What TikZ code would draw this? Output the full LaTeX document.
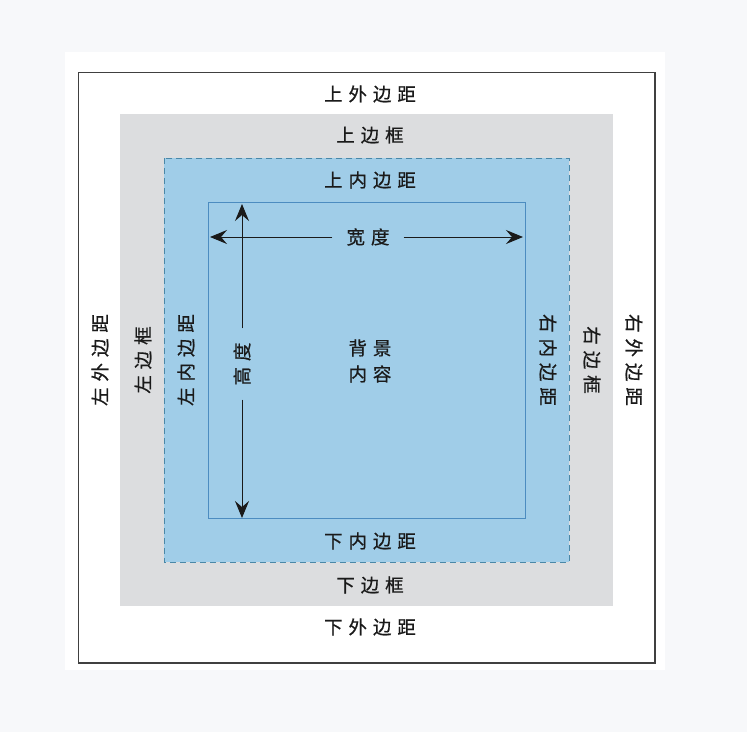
\documentclass[tikz,border=0pt]{standalone}
\usepackage{fontspec}
\newfontfamily\cjk[LetterSpace=32,FakeBold=0.6]{Noto Sans CJK SC}
\usetikzlibrary{arrows.meta}
\definecolor{pagebg}{HTML}{F7F8FA}
\definecolor{bordergray}{HTML}{DCDDDF}
\definecolor{padblue}{HTML}{A0CDE8}
\definecolor{dashblue}{HTML}{4A88A8}
\definecolor{contentline}{HTML}{4C8CC0}
\definecolor{txt}{HTML}{1A1A1A}
\begin{document}
\begin{tikzpicture}[x=1pt,y=-1pt,
  lbl/.style={font=\cjk\fontsize{18.5}{21}\selectfont, text=txt, inner sep=0pt},
  dimarrow/.style={draw=txt, line width=1pt, -{Stealth[length=17pt,width=14pt,inset=6pt]}},
  dimlbl/.style={lbl, inner sep=12pt}]
\useasboundingbox (0,0) rectangle (747,732);
\fill[pagebg] (0,0) rectangle (747,732);
\fill[white] (65,52) rectangle (665,670);
\draw[draw=black!75, line width=1.2pt] (78.5,72.5) rectangle (655,663);
\fill[bordergray] (120,114) rectangle (613,606);
\fill[padblue] (164,158) rectangle (569,562);
\draw[dashblue, line width=0.9pt, dash pattern=on 6pt off 4pt] (164,158) rectangle (569,562);
\draw[contentline, line width=0.9pt] (208,202) rectangle (525,518);
% labels
\node[lbl] (tm) at (370,94) {上外边距};
\node[lbl] (tb) at (370,135) {上边框};
\node[lbl] (tp) at (370,180) {上内边距};
\node[lbl] (bp) at (370,541) {下内边距};
\node[lbl] (bb) at (370,585) {下边框};
\node[lbl] (bm) at (370,627) {下外边距};
\node[lbl, rotate=90] (lm) at (100,360) {左外边距};
\node[lbl, rotate=90] (lb) at (143,360) {左边框};
\node[lbl, rotate=90] (lp) at (186,360) {左内边距};
\node[lbl, rotate=-90] (rp) at (548,360) {右内边距};
\node[lbl, rotate=-90] (rb) at (592,360) {右边框};
\node[lbl, rotate=-90] (rm) at (634,360) {右外边距};
\node[lbl, align=center] (bg) at (370,361) {背景\\[5pt]内容};
% dimension arrows
\coordinate (wl) at (210,237);
\coordinate (wr) at (523,237);
\coordinate (ht) at (242,204);
\coordinate (hb) at (242,518);
\node[dimlbl, inner xsep=14pt] (w) at (368,237) {宽度};
\node[dimlbl, rotate=90, inner xsep=14pt] (h) at (242,364) {高度};
\draw[dimarrow] (w.west) -- (wl);
\draw[dimarrow] (w.east) -- (wr);
\draw[dimarrow] (h.east) -- (ht);
\draw[dimarrow] (h.west) -- (hb);
\end{tikzpicture}
\end{document}
